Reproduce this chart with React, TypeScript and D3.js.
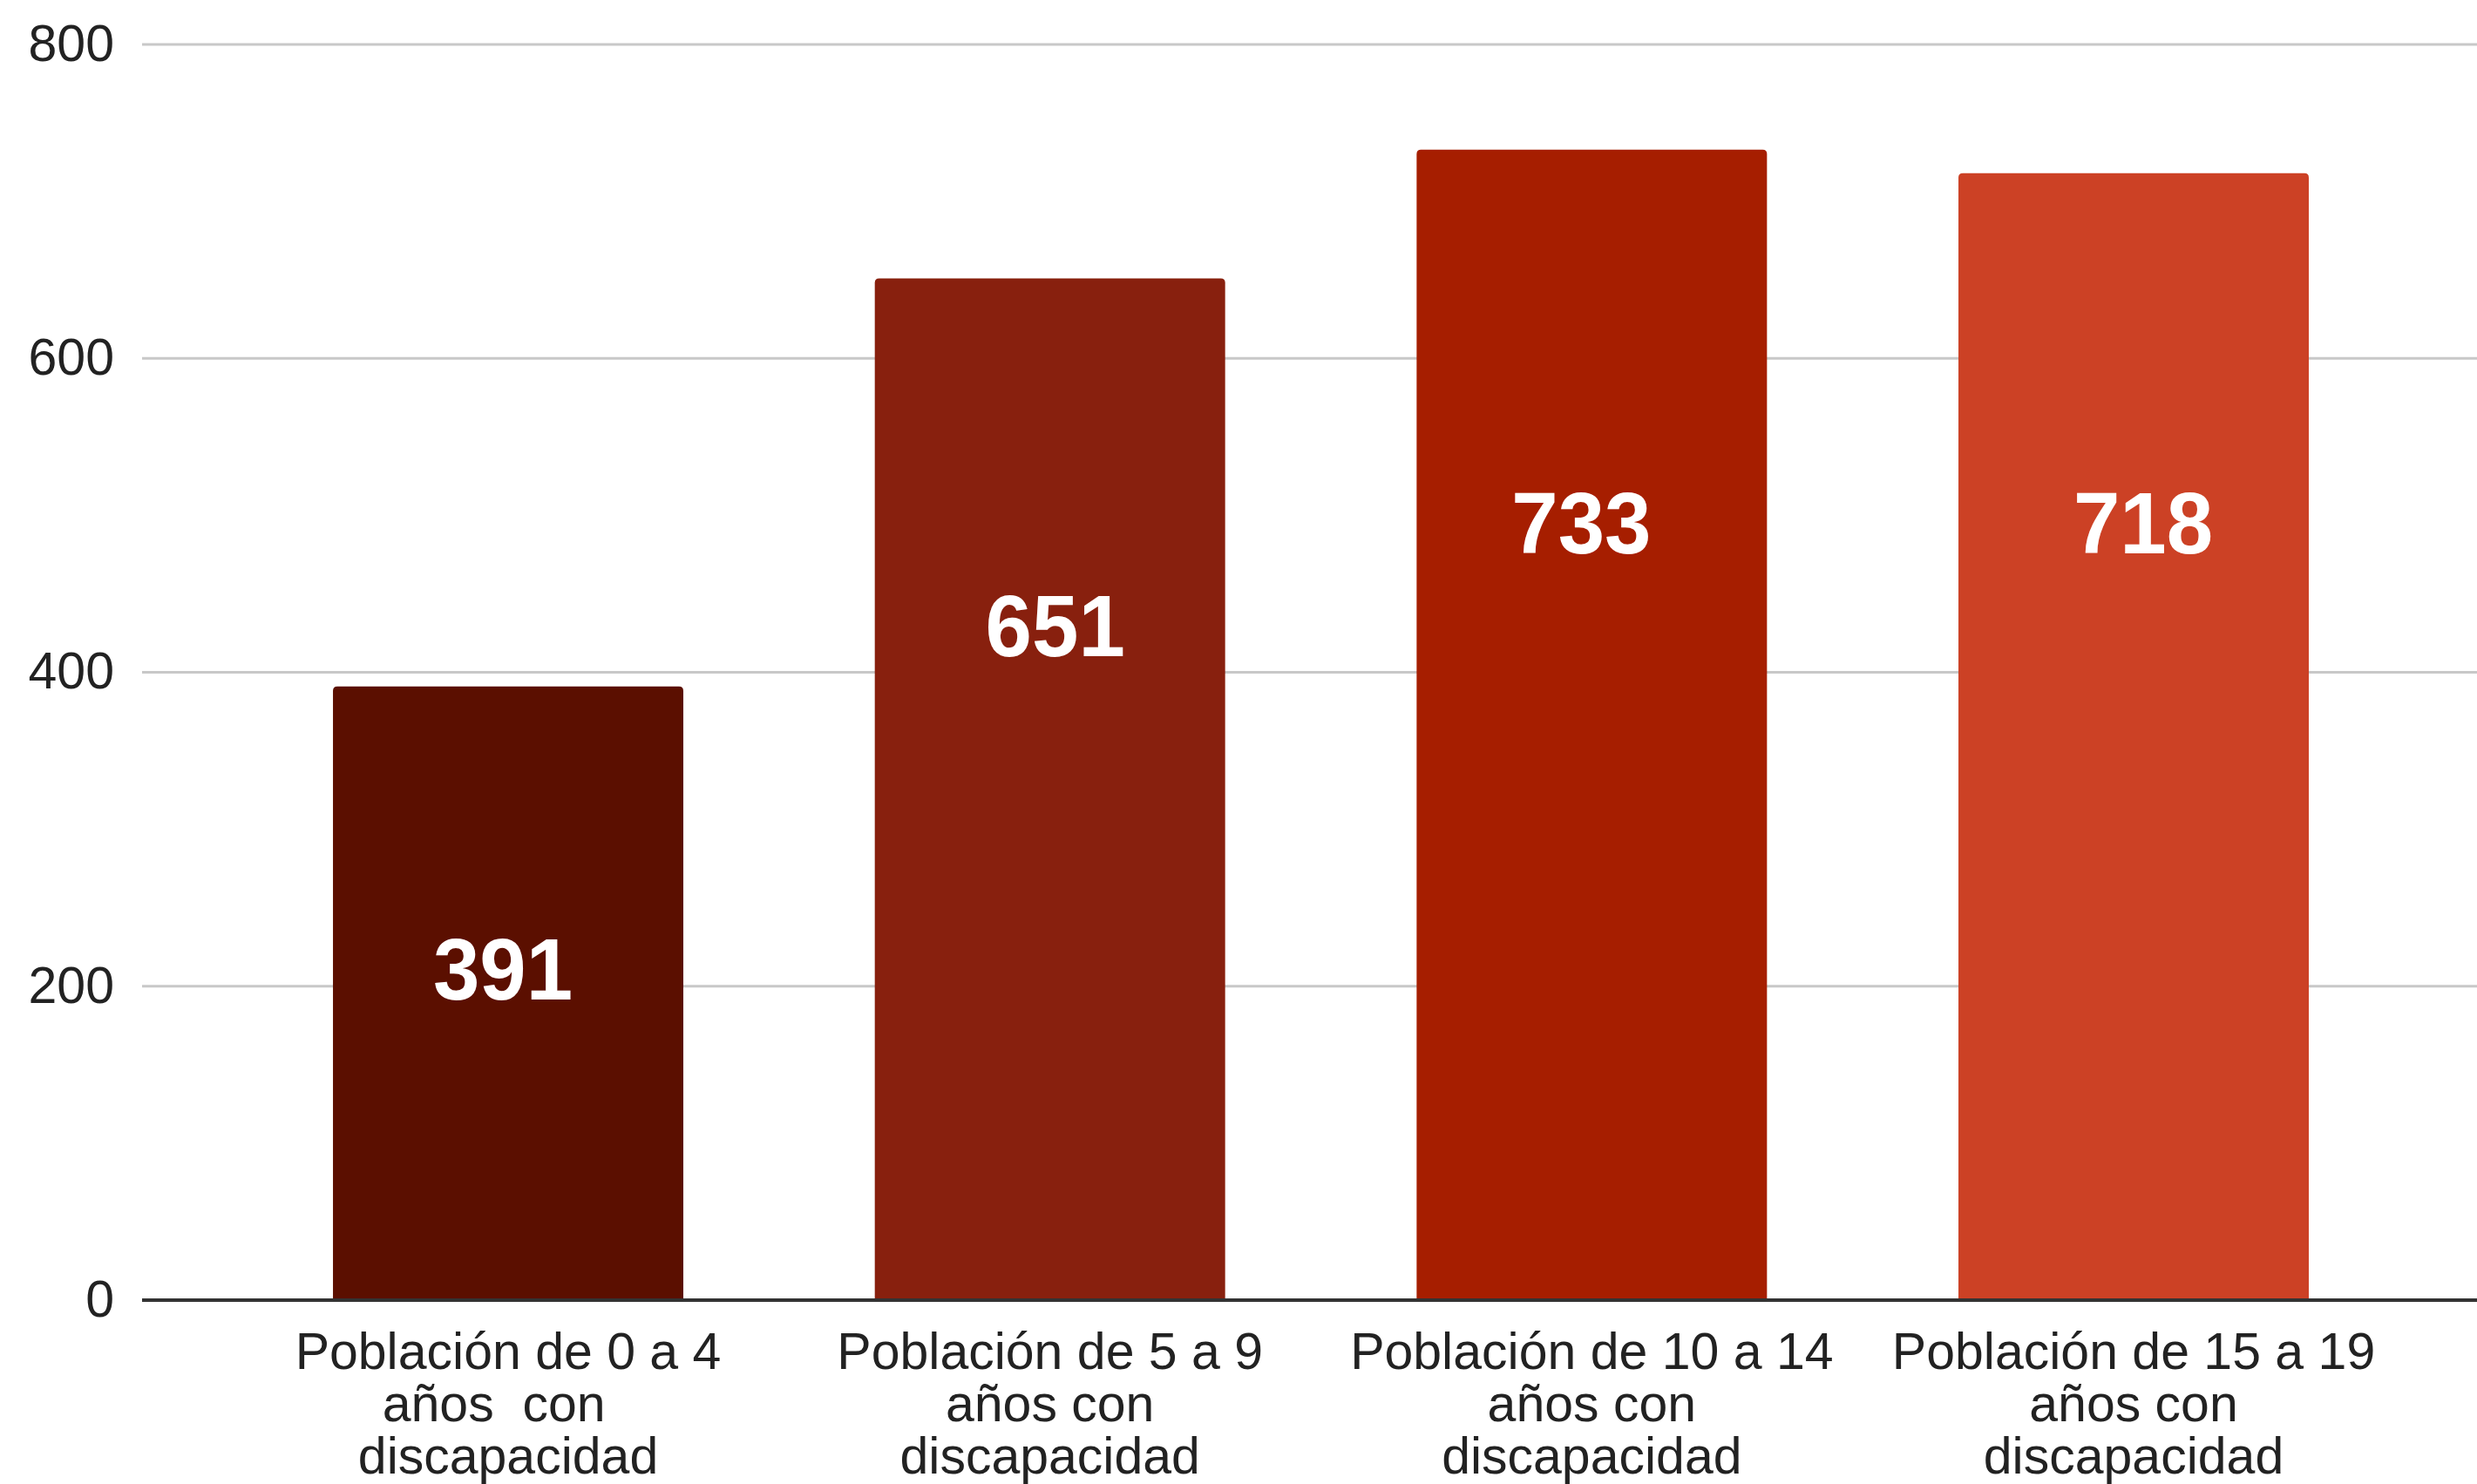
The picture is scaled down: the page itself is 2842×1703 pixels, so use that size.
import React, { useEffect } from "react";
import * as d3 from "d3";

const categories = [
  "Población de 0 a 4\naños  con  \ndiscapacidad",
  "Población de 5 a 9\naños con\ndiscapacidad",
  "Población de 10 a 14\naños con\ndiscapacidad",
  "Población de 15 a 19\naños con\ndiscapacidad",
];
const values = [391, 651, 733, 718];
const barColors = ["#5b0f00", "#88200e", "#a61e00", "#cc4125"];
const yTicks = [0, 200, 400, 600, 800];
// value (in data units) at which each white value label's baseline sits
const labelLevels = [191.5, 410, 476, 476];

const W = 2842;
const H = 1703;
const FONT = "'Liberation Sans', Arial, Helvetica, sans-serif";
// small horizontal nudges of the value labels (px), as placed in the original
const labelNudge = [-6, 6, -12, 11];

function topRoundedBar(x: number, y: number, w: number, h: number, r: number) {
  const rr = Math.min(r, h, w / 2);
  return `M${x},${y + h}V${y + rr}Q${x},${y} ${x + rr},${y}H${x + w - rr}Q${x + w},${y} ${x + w},${y + rr}V${y + h}Z`;
}

export default function App() {
  useEffect(() => {
    document.body.style.margin = "0";
    document.body.style.background = "#ffffff";
  }, []);

  const y = d3.scaleLinear().domain([0, 800]).range([1492, 51]);
  const x = d3
    .scaleBand<string>()
    .domain(categories)
    .range([163, W])
    .paddingInner(0.3534)
    .paddingOuter(0.3314)
    .align(0.5316);

  const bw = x.bandwidth();

  return (
    <svg width={W} height={H} viewBox={`0 0 ${W} ${H}`} style={{ display: "block", background: "#fff" }}>
      {/* gridlines */}
      {yTicks
        .filter((t) => t !== 0)
        .map((t) => (
          <line key={`g${t}`} x1={163} x2={W} y1={y(t)} y2={y(t)} stroke="#c8c8c8" strokeWidth={3} />
        ))}
      {/* y tick labels */}
      {yTicks.map((t) => (
        <text
          key={`t${t}`}
          x={131}
          y={y(t)}
          dy="0.32em"
          textAnchor="end"
          fontFamily={FONT}
          fontSize={59}
          fill="#222222"
        >
          {t}
        </text>
      ))}
      {/* bars */}
      {categories.map((c, i) => {
        const bx = x(c) as number;
        const by = y(values[i]);
        return (
          <path key={`b${i}`} d={topRoundedBar(bx, by, bw, y(0) - by, 5)} fill={barColors[i]} />
        );
      })}
      {/* baseline axis */}
      <line x1={163} x2={W} y1={y(0)} y2={y(0)} stroke="#333333" strokeWidth={4} />
      {/* value labels */}
      {categories.map((c, i) => {
        const cx = (x(c) as number) + bw / 2 + labelNudge[i];
        return (
          <text
            key={`v${i}`}
            transform={`translate(${cx},${y(labelLevels[i])}) scale(0.96,1)`}
            textAnchor="middle"
            fontFamily={FONT}
            fontWeight="bold"
            fontSize={100}
            fill="#ffffff"
          >
            {values[i]}
          </text>
        );
      })}
      {/* category labels */}
      {categories.map((c, i) => {
        const cx = (x(c) as number) + bw / 2;
        return (
          <text
            key={`c${i}`}
            textAnchor="middle"
            fontFamily={FONT}
            fontSize={59}
            fill="#222222"
            style={{ whiteSpace: "pre" }}
          >
            {c.split("\n").map((line, j) => (
              <tspan key={j} x={cx} y={1571 + j * 60}>
                {line}
              </tspan>
            ))}
          </text>
        );
      })}
    </svg>
  );
}
